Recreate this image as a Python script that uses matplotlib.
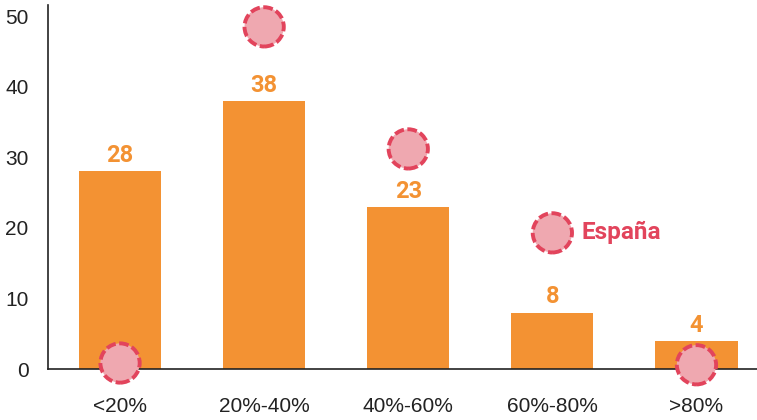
import matplotlib.pyplot as plt

# share of population by coverage band, plus where Spain falls in each
bands = ['<20%', '20%-40%', '40%-60%', '60%-80%', '>80%']
counts = [28, 38, 23, 8, 4]
spain = [0.85, 48.5, 31.2, 19.3, 0.6]
spain_label = 'España'

BAR_COLOR = '#F39233'
DOT_FILL = '#EFA8B0'
DOT_EDGE = '#E2445C'

plt.rcParams['font.family'] = ['Liberation Sans', 'DejaVu Sans']

fig = plt.figure(figsize=(7.57, 4.2), dpi=100)
ax = fig.add_axes([0.0634, 0.1214, 0.9366, 0.8667])

x = range(len(bands))
ax.bar(x, counts, width=0.57, color=BAR_COLOR, zorder=2)

for xi, v in zip(x, counts):
    ax.annotate(str(v), (xi, v), xytext=(0, 3), textcoords='offset points',
                ha='center', va='bottom', fontsize=17, fontweight='bold',
                color=BAR_COLOR, family='Roboto')

ax.scatter(x, spain, s=800, facecolor=DOT_FILL, edgecolor=DOT_EDGE,
           linewidths=2.8, linestyles=(0, (2.5, 0.9)), zorder=4, clip_on=False)

ax.annotate(spain_label, (3, spain[3]), xytext=(21, 0), textcoords='offset points',
            ha='left', va='center', fontsize=17.5, fontweight='bold',
            color=DOT_EDGE, family='Roboto')

ax.set_xlim(-0.5, 4.42)
ax.set_ylim(0, 51.6)
ax.set_yticks([0, 10, 20, 30, 40, 50])
ax.set_xticks(list(x))
ax.set_xticklabels(bands)
ax.tick_params(axis='both', length=0, labelsize=15, colors='#222222')
ax.tick_params(axis='x', pad=20)
ax.tick_params(axis='y', pad=14)

for side in ['top', 'right']:
    ax.spines[side].set_visible(False)
ax.spines['left'].set_linewidth(1.2)
ax.spines['bottom'].set_linewidth(1.2)
ax.spines['left'].set_color('#222222')
ax.spines['bottom'].set_color('#222222')
ax.spines['bottom'].set_zorder(3)

fig.savefig('out.png', dpi=100)
